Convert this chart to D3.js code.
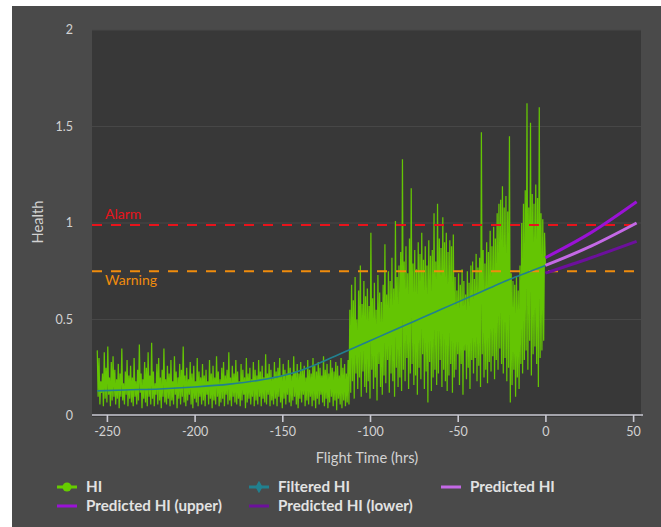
<!DOCTYPE html>
<html><head><meta charset="utf-8">
<script src="https://cdn.jsdelivr.net/npm/d3@7"></script>
<style>
html,body{margin:0;padding:0;background:#fff;}
svg{display:block;font-family:Lato,"Open Sans",sans-serif;}
</style></head>
<body>
<svg id="chart" width="661" height="527"></svg>
<script>
// ---- data ----
const hiStart = -255.5, hiStep = 0.5;
const hiValues = [
.34,.10,.30,.06,.18,.12,.22,.05,.33,.09,.25,.07,.36,.11,.20,.05,.28,.08,.31,.10,
.24,.06,.19,.09,.27,.04,.22,.10,.35,.08,.17,.06,.23,.11,.29,.05,.21,.09,.26,.07,
.20,.05,.30,.10,.18,.06,.24,.08,.37,.12,.22,.04,.19,.09,.28,.07,.25,.05,.33,.10,
.21,.06,.38,.09,.23,.05,.17,.11,.27,.06,.30,.08,.20,.04,.24,.10,.35,.07,.19,.06,
.26,.09,.22,.05,.29,.08,.18,.06,.31,.11,.23,.04,.20,.09,.27,.06,.24,.10,.36,.07,
.21,.05,.25,.08,.19,.11,.28,.06,.22,.04,.26,.09,.18,.07,.30,.05,.23,.10,.20,.06,
.27,.08,.21,.05,.24,.11,.18,.06,.29,.09,.22,.04,.26,.08,.20,.06,.31,.10,.23,.05,
.19,.07,.25,.09,.28,.05,.21,.11,.24,.06,.33,.08,.20,.05,.26,.10,.22,.07,.29,.06,
.23,.09,.18,.05,.27,.08,.24,.11,.20,.04,.30,.07,.22,.09,.25,.06,.19,.10,.28,.05,
.24,.08,.21,.06,.29,.10,.23,.05,.26,.09,.20,.07,.32,.06,.22,.11,.27,.05,.24,.08,
.20,.06,.28,.09,.23,.05,.25,.10,.30,.07,.21,.04,.27,.09,.24,.06,.22,.11,.29,.07,
.25,.05,.21,.08,.31,.10,.23,.06,.27,.04,.22,.09,.28,.07,.24,.11,.26,.05,.20,.08,
.29,.06,.24,.10,.22,.05,.30,.08,.26,.04,.23,.09,.28,.06,.25,.11,.21,.07,.31,.05,
.24,.09,.27,.04,.22,.07,.29,.10,.25,.05,.23,.08,.28,.03,.26,.09,.21,.06,.30,.04,
.25,.08,.27,.05,.22,.07,.29,.06,
.55,.12,.68,.18,.60,.09,.72,.22,.50,.14,.65,.20,.78,.10,.58,.23,.70,.15,.62,.12,
.66,.18,.57,.09,.95,.24,.61,.14,.69,.20,.55,.08,.73,.27,.64,.15,.59,.11,.68,.21,
.89,.17,.63,.29,.75,.12,.70,.22,.82,.18,.66,.10,1.01,.25,.72,.15,.78,.20,.85,.13,
1.33,.24,.80,.18,.88,.30,.74,.14,.92,.22,1.18,.27,.79,.16,.86,.21,.76,.11,.90,.25,
.84,.19,.95,.32,.81,.14,.88,.23,.78,.07,.91,.28,.83,.13,.86,.20,1.05,.24,.80,.16,
1.10,.22,.92,.29,.87,.15,1.03,.24,.90,.18,.95,.13,.85,.21,.91,.27,.88,.12,.94,.20,
.72,.24,.65,.32,.74,.16,.68,.27,.76,.11,.70,.34,.63,.19,.75,.25,.69,.14,.78,.29,
.80,.22,.71,.30,.84,.18,.77,.26,.82,.15,1.47,.32,.86,.20,.79,.24,.90,.17,.85,.28,
.96,.23,.88,.31,.98,.19,.92,.29,1.05,.24,1.10,.35,1.12,.27,1.19,.22,1.08,.30,1.14,.18,
1.06,.25,1.45,.07,.74,.16,.70,.24,.68,.10,.72,.20,.65,.14,.78,.27,1.00,.22,1.10,.29,
1.17,.34,1.62,.24,1.08,.39,1.52,.21,1.15,.32,1.10,.36,1.20,.27,1.13,.15,1.60,.30,1.05,.34,
1.02,.39,.95,.78
];
const filteredT = [-255.5,-240,-220,-200,-180,-160,-145,-130,-120,-110,-100,-90,-80,-70,-60,-50,-40,-30,-20,-10,0];
const filteredV = [.13,.135,.14,.15,.165,.19,.22,.27,.31,.35,.39,.43,.47,.51,.55,.59,.63,.67,.71,.745,.78];
const predT = [0,26,52];
const predHI = [.78,.88,1.00];
const predUpper = [.82,.95,1.11];
const predLower = [.74,.82,.905];
const alarmLevel = 0.99, warningLevel = 0.75;
const xTicks = [-250,-200,-150,-100,-50,0,50];
const yTicks = [0,0.5,1,1.5,2];
const legendItems = ["HI","Filtered HI","Predicted HI","Predicted HI (upper)","Predicted HI (lower)"];

// ---- chart ----
const svg = d3.select("#chart");
const C = {bg:"#4a4a4a", plot:"#383838", grid:"#474747", text:"#d2d2d2",
  hi:"#66cc00", filt:"#21808f", pred:"#c469e6", upper:"#9a12d6", lower:"#6c109c",
  alarm:"#e8131b", warn:"#f08c0c"};
const x = d3.scaleLinear().domain([-258.5, 54.5]).range([92, 641]);
const y = d3.scaleLinear().domain([0, 2]).range([416, 30]);

svg.append("rect").attr("x",12).attr("y",6).attr("width",649).attr("height",521).attr("fill",C.bg);
svg.append("rect").attr("x",92).attr("y",30).attr("width",549).attr("height",387).attr("fill",C.plot);

svg.append("clipPath").attr("id","clip").append("rect").attr("x",92).attr("y",30).attr("width",549).attr("height",387);

// gridlines
svg.append("g").selectAll("line").data(yTicks.filter(d=>d>0)).join("line")
  .attr("x1",92).attr("x2",641).attr("y1",d=>y(d)).attr("y2",d=>y(d))
  .attr("stroke",C.grid).attr("stroke-width",1.2);

// y labels
svg.append("g").selectAll("text").data(yTicks).join("text")
  .attr("x",73).attr("y",d=>y(d)+4).attr("text-anchor","end")
  .attr("fill",C.text).attr("font-size",12.5).text(d=>String(d));

const g = svg.append("g").attr("clip-path","url(#clip)");

// HI
const hiData = hiValues.map((v,i)=>[hiStart + i*hiStep, v]);
const line = d3.line().x(d=>x(d[0])).y(d=>y(d[1]));
g.append("path").datum(hiData).attr("d",line).attr("fill","none")
  .attr("stroke",C.hi).attr("stroke-width",1.25).attr("stroke-opacity",0.95);

// thresholds
g.append("line").attr("x1",92).attr("x2",641).attr("y1",y(alarmLevel)).attr("y2",y(alarmLevel))
  .attr("stroke",C.alarm).attr("stroke-width",2).attr("stroke-dasharray","10,9");
g.append("line").attr("x1",92).attr("x2",641).attr("y1",y(warningLevel)).attr("y2",y(warningLevel))
  .attr("stroke",C.warn).attr("stroke-width",2).attr("stroke-dasharray","10,9");

// filtered
const smooth = d3.line().x(d=>x(d[0])).y(d=>y(d[1])).curve(d3.curveMonotoneX);
g.append("path").datum(filteredT.map((t,i)=>[t,filteredV[i]])).attr("d",smooth)
  .attr("fill","none").attr("stroke",C.filt).attr("stroke-width",1.6);

// predictions
const natural = d3.line().x(d=>x(d[0])).y(d=>y(d[1])).curve(d3.curveNatural);
[[predUpper,C.upper],[predHI,C.pred],[predLower,C.lower]].forEach(([arr,col])=>{
  g.append("path").datum(predT.map((t,i)=>[t,arr[i]])).attr("d",natural)
    .attr("fill","none").attr("stroke",col).attr("stroke-width",3);
});

svg.append("text").attr("x",105).attr("y",219).attr("fill",C.alarm).attr("font-size",14).text("Alarm");
svg.append("text").attr("x",105).attr("y",285).attr("fill",C.warn).attr("font-size",14).text("Warning");

// x axis
const xAxis = d3.axisBottom(x).tickValues(xTicks).tickSize(7).tickPadding(5).tickFormat(d=>String(d));
const ax = svg.append("g").attr("transform","translate(0,415)").call(xAxis);
ax.select(".domain").attr("stroke","#c9c9d2").attr("stroke-width",1.6).attr("d","M92,0H643");
ax.selectAll(".tick line").attr("stroke","#c9c9d2").attr("stroke-width",1.6);
ax.selectAll(".tick text").attr("fill",C.text).attr("font-size",12.5).attr("font-family","Lato,sans-serif");

// axis titles
svg.append("text").attr("x",367).attr("y",463).attr("text-anchor","middle")
  .attr("fill",C.text).attr("font-size",14.7).text("Flight Time (hrs)");
svg.append("text").attr("transform","translate(43,222) rotate(-90)").attr("text-anchor","middle")
  .attr("fill",C.text).attr("font-size",14.7).text("Health");

// legend
const legPos = [[57,487],[249,487],[441,487],[57,506],[249,506]];
const legCol = [C.hi,C.filt,C.pred,C.upper,C.lower];
const lg = svg.append("g");
legendItems.forEach((name,i)=>{
  const [lx,ly] = legPos[i];
  lg.append("line").attr("x1",lx).attr("x2",lx+20).attr("y1",ly).attr("y2",ly)
    .attr("stroke",legCol[i]).attr("stroke-width",3);
  if(i===0) lg.append("circle").attr("cx",lx+10).attr("cy",ly).attr("r",4.5).attr("fill",legCol[i]);
  if(i===1) lg.append("path").attr("d",d3.symbol(d3.symbolDiamond,45)()).attr("transform",`translate(${lx+10},${ly})`).attr("fill",legCol[i]);
  lg.append("text").attr("x",lx+29).attr("y",ly+5).attr("fill","#e2e2e2")
    .attr("font-size",15.2).attr("font-weight",700).text(name);
});
</script>
</body></html>
